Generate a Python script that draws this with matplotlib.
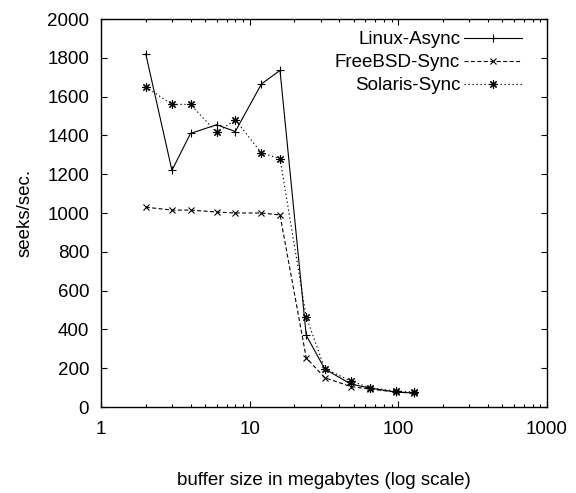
import numpy as np
import matplotlib
matplotlib.use("Agg")
import matplotlib.pyplot as plt
from matplotlib.ticker import LogLocator, FixedLocator, NullFormatter

# buffer sizes (MB) and seeks/sec
buffer_mb = [2, 3, 4, 6, 8, 12, 16, 24, 32, 48, 64, 96, 128]
linux_async = [1820, 1220, 1410, 1455, 1420, 1665, 1735, 370, 196, 118, 98, 77, 72]
freebsd_sync = [1030, 1015, 1015, 1005, 1000, 1000, 990, 254, 151, 105, 93, 77, 72]
solaris_sync = [1650, 1560, 1560, 1415, 1480, 1310, 1280, 465, 198, 134, 100, 82, 77]

series_names = ["Linux-Async", "FreeBSD-Sync", "Solaris-Sync"]
y_ticks = [0, 200, 400, 600, 800, 1000, 1200, 1400, 1600, 1800, 2000]
x_ticks = [1, 10, 100, 1000]

plt.rcParams['font.family'] = ['Liberation Sans', 'DejaVu Sans']
plt.rcParams['font.size'] = 13.5

fig = plt.figure(figsize=(5.76, 4.93), dpi=100)
ax = fig.add_axes([101 / 576, 1 - 407 / 493, 446 / 576, 388 / 493])

lw = 0.8
ax.plot(buffer_mb, linux_async, color='black', lw=lw, linestyle='-',
        marker='+', markersize=6, markeredgewidth=0.8, label=series_names[0])
ax.plot(buffer_mb, freebsd_sync, color='black', lw=lw, dashes=(3.6, 2.2),
        marker='x', markersize=5, markeredgewidth=0.8, label=series_names[1])
ax.plot(buffer_mb, solaris_sync, color='black', lw=lw, dashes=(1.2, 2.4),
        marker=(8, 2, 0), markersize=6, markeredgewidth=0.8, label=series_names[2])

ax.set_xscale('log')
ax.set_xlim(1, 1000)
ax.set_ylim(0, 2000)
ax.xaxis.set_major_locator(FixedLocator(x_ticks))
ax.set_xticklabels([str(t) for t in x_ticks])
ax.xaxis.set_minor_locator(LogLocator(base=10, subs=np.arange(2, 10)))
ax.xaxis.set_minor_formatter(NullFormatter())
ax.set_yticks(y_ticks)

ax.tick_params(which='both', direction='in', top=True, right=True, width=0.8)
ax.tick_params(which='major', length=4.5)
ax.tick_params(which='minor', length=2.5)
ax.tick_params(axis='y', which='major', pad=8.5)
ax.tick_params(axis='x', which='major', pad=10)
for s in ax.spines.values():
    s.set_linewidth(1.0)

ax.set_xlabel("buffer size in megabytes (log scale)", labelpad=24.5)
ax.set_ylabel("seeks/sec.", labelpad=10)

leg = ax.legend(loc='upper right', bbox_to_anchor=(0.965, 0.993), frameon=False,
                markerfirst=False, handlelength=3.1, handletextpad=0.2,
                labelspacing=0.31, borderaxespad=0.1)

fig.savefig("out.png", dpi=100)
